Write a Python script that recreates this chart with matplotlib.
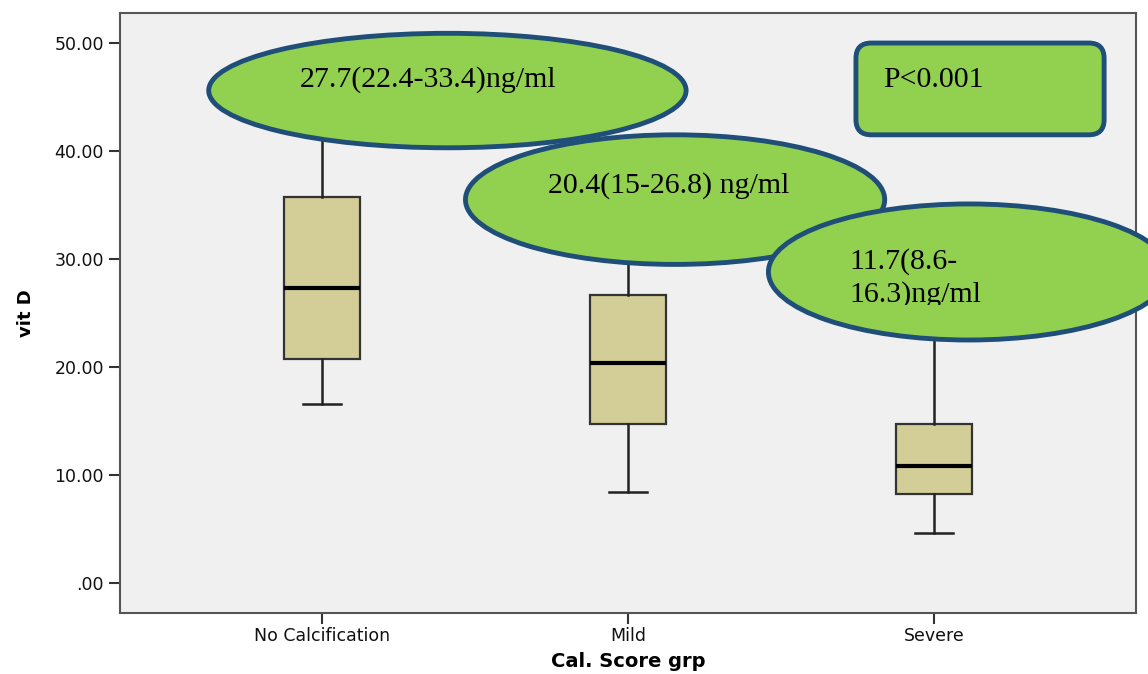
import matplotlib.pyplot as plt
from matplotlib.patches import Ellipse, FancyBboxPatch, Rectangle

# Vitamin D by calcification score group (box summary)
groups = ['No Calcification', 'Mild', 'Severe']
whisker_low = [16.6, 8.4, 4.6]
q1 = [20.7, 14.7, 8.2]
median = [27.3, 20.4, 10.8]
q3 = [35.7, 26.7, 14.75]
whisker_high = [44.0, 33.0, 26.0]

# median (IQR) callouts and overall p value
notes = ['27.7(22.4-33.4)ng/ml', '20.4(15-26.8) ng/ml', '11.7(8.6-\n16.3)ng/ml']
p_text = 'P<0.001'

green = '#92D050'
navy = '#1F4E79'

fig = plt.figure(figsize=(11.48, 6.74), dpi=100)
ax = fig.add_axes([0.1045, 0.0905, 0.885, 0.8902])
ax.set_facecolor('#F0F0F0')

stats = []
for i, g in enumerate(groups):
    stats.append({'label': g, 'whislo': whisker_low[i], 'q1': q1[i], 'med': median[i],
                  'q3': q3[i], 'whishi': whisker_high[i], 'fliers': []})

pos = [1, 2, 3]
ax.bxp(stats, positions=pos, widths=0.25, capwidths=0.125, patch_artist=True,
       showfliers=False,
       boxprops=dict(facecolor='#D3CE98', edgecolor='#333333', linewidth=1.6),
       medianprops=dict(color='black', linewidth=3),
       whiskerprops=dict(color='#222222', linewidth=1.8),
       capprops=dict(color='#222222', linewidth=1.8))

ax.set_xlim(0.34, 3.66)
ax.set_ylim(-2.78, 52.78)
ax.set_yticks([0, 10, 20, 30, 40, 50])
ax.set_yticklabels(['.00', '10.00', '20.00', '30.00', '40.00', '50.00'])
ax.set_xticks(pos)
ax.set_xticklabels(groups)
ax.tick_params(axis='both', length=8, width=1.5, color='#333333', labelsize=12.5,
               labelcolor='#111111')
ax.tick_params(axis='x', pad=2)
for s in ax.spines.values():
    s.set_color('#555555')
    s.set_linewidth(1.5)

ax.set_xlabel('Cal. Score grp', fontsize=14, fontweight='bold', labelpad=5)
ax.set_ylabel('vit D', fontsize=13, fontweight='bold', labelpad=14)

# callout ellipses, later ones on top
ellipses = [((1.41, 45.6), 1.56, 10.6), ((2.154, 35.5), 1.37, 12.0), ((3.114, 28.8), 1.31, 12.6)]
for k, (c, w, h) in enumerate(ellipses):
    e = Ellipse(c, w, h, facecolor=green, edgecolor=navy, linewidth=3.5,
                zorder=5 + k, clip_on=False)
    ax.add_patch(e)

serif = 'Liberation Serif'
ax.text(0.928, 46.6, notes[0], fontsize=21.5, family=serif, va='center', ha='left', zorder=10)
ax.text(1.739, 36.8, notes[1], fontsize=21.5, family=serif, va='center', ha='left', zorder=10)
ax.text(2.725, 28.2, notes[2], fontsize=21.5, family=serif, va='center', ha='left',
        linespacing=1.3, zorder=10)
# the callout's text frame cuts off the descenders of its second line
ax.add_patch(Rectangle((2.70, 24.3), 0.5, 1.45, facecolor=green, edgecolor='none', zorder=10.5))

# p value box
box = FancyBboxPatch((2.745, 41.5), 0.811, 8.5,
                     boxstyle='round,pad=0,rounding_size=0.05',
                     mutation_aspect=28.3, facecolor=green, edgecolor=navy,
                     linewidth=3.5, zorder=10, clip_on=False)
ax.add_patch(box)
ax.text(2.833, 46.6, p_text, fontsize=21.5, family=serif, va='center', ha='left', zorder=11)

fig.savefig('out.png', dpi=100)
